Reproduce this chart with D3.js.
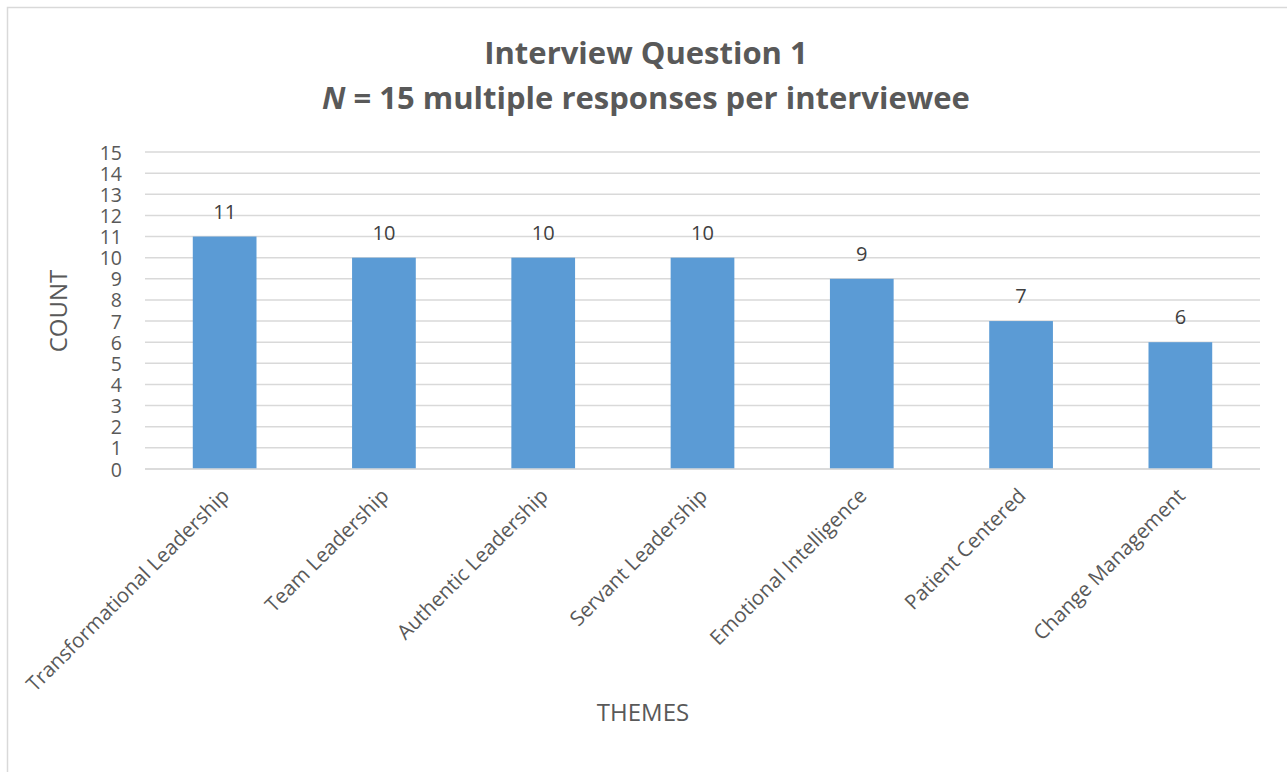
<!DOCTYPE html>
<html>
<head>
<meta charset="utf-8">
<script src="https://cdn.jsdelivr.net/npm/d3@7"></script>
<style>
  html, body { margin: 0; padding: 0; background: #fff; }
  svg { display: block; font-family: "Open Sans", "Liberation Sans", sans-serif; }
</style>
</head>
<body>
<svg id="chart" width="1287" height="772"></svg>
<script>
// Theme counts for interview question 1
const themes = [
  "Transformational Leadership",
  "Team Leadership",
  "Authentic Leadership",
  "Servant Leadership",
  "Emotional Intelligence",
  "Patient Centered",
  "Change Management"
];
const counts = [11, 10, 10, 10, 9, 7, 6];
const yTicks = [0, 1, 2, 3, 4, 5, 6, 7, 8, 9, 10, 11, 12, 13, 14, 15];

const titleLine1 = "Interview Question 1";
const titleLine2Italic = "N";
const titleLine2Rest = " = 15 multiple responses per interviewee";

const svg = d3.select("#chart");
const W = 1287, H = 772;
const plot = { left: 145, right: 1260, top: 152, bottom: 469 };

// chart area frame
svg.append("rect")
  .attr("x", 7.5).attr("y", 7.5)
  .attr("width", W + 20).attr("height", H + 20)
  .attr("fill", "#fff").attr("stroke", "#d9d9d9").attr("stroke-width", 1.5);

const x = d3.scaleBand().domain(themes).range([plot.left, plot.right]).paddingInner(0.6).paddingOuter(0.3);
const y = d3.scaleLinear().domain([0, 15]).range([plot.bottom, plot.top]);

// horizontal gridlines
svg.append("g")
  .selectAll("line")
  .data(yTicks)
  .join("line")
  .attr("x1", plot.left).attr("x2", plot.right)
  .attr("y1", d => y(d)).attr("y2", d => y(d))
  .attr("stroke", "#d9d9d9").attr("stroke-width", 1.5);

// y axis tick labels
const yAxis = d3.axisLeft(y).tickValues(yTicks).tickSize(0).tickPadding(0);
const gy = svg.append("g").attr("transform", `translate(${plot.left - 23},0)`).call(yAxis);
gy.select(".domain").remove();
gy.selectAll("text")
  .attr("fill", "#595959")
  .style("font-size", "19.5px")
  .style("font-family", "'Open Sans', sans-serif")
  .attr("dy", "0.36em");

// bars
svg.append("g")
  .selectAll("rect")
  .data(themes)
  .join("rect")
  .attr("x", d => x(d))
  .attr("width", x.bandwidth())
  .attr("y", (d, i) => y(counts[i]))
  .attr("height", (d, i) => y(0) - y(counts[i]))
  .attr("fill", "#5b9bd5");

// zero baseline
svg.append("line")
  .attr("x1", plot.left).attr("x2", plot.right)
  .attr("y1", y(0)).attr("y2", y(0))
  .attr("stroke", "#d9d9d9").attr("stroke-width", 1.5);

// value labels above bars
svg.append("g")
  .selectAll("text")
  .data(themes)
  .join("text")
  .attr("x", d => x(d) + x.bandwidth() / 2)
  .attr("y", (d, i) => y(counts[i]) - 18)
  .attr("text-anchor", "middle")
  .attr("fill", "#404040")
  .style("font-size", "20px")
  .text((d, i) => counts[i]);

// x axis category labels, rotated 45 degrees
const xAxis = d3.axisBottom(x).tickSize(0).tickPadding(0);
const gx = svg.append("g").attr("transform", `translate(0,${plot.bottom})`).call(xAxis);
gx.select(".domain").remove();
gx.selectAll("text")
  .attr("fill", "#595959")
  .style("font-size", "20.5px")
  .style("font-family", "'Open Sans', sans-serif")
  .attr("text-anchor", "end")
  .attr("transform", "translate(1,23) rotate(-45)")
  .attr("dy", "0.35em");

// axis titles
svg.append("text")
  .attr("transform", "translate(67,311) rotate(-90)")
  .attr("text-anchor", "middle")
  .attr("fill", "#595959")
  .style("font-size", "24px")
  .text("COUNT");

svg.append("text")
  .attr("x", 643)
  .attr("y", 721)
  .attr("text-anchor", "middle")
  .attr("fill", "#595959")
  .style("font-size", "24px")
  .text("THEMES");

// chart title
svg.append("text")
  .attr("x", 646).attr("y", 64)
  .attr("text-anchor", "middle")
  .attr("fill", "#595959")
  .style("font-size", "31px").style("font-weight", "bold")
  .text(titleLine1);

const t2 = svg.append("text")
  .attr("x", 646).attr("y", 109)
  .attr("text-anchor", "middle")
  .attr("fill", "#595959")
  .style("font-size", "31px").style("font-weight", "bold");
t2.append("tspan").style("font-style", "italic").text(titleLine2Italic);
t2.append("tspan").text(titleLine2Rest);
</script>
</body>
</html>
